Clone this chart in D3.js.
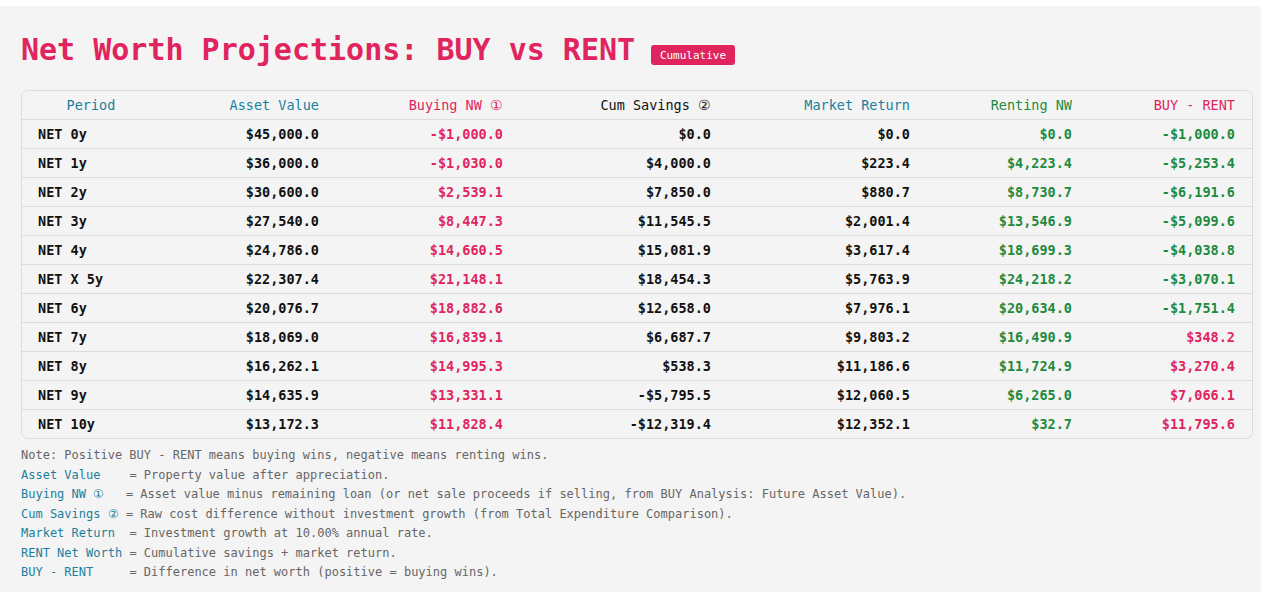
<!DOCTYPE html>
<html><head><meta charset="utf-8">
<script src="https://cdn.jsdelivr.net/npm/d3@7"></script>
<style>html,body{margin:0;background:#f4f4f4;}</style>
</head><body><svg id="c" width="1261" height="592"></svg>
<script>
const periods=["NET 0y","NET 1y","NET 2y","NET 3y","NET 4y","NET X 5y","NET 6y","NET 7y","NET 8y","NET 9y","NET 10y"];
const assetValue=[45000.0,36000.0,30600.0,27540.0,24786.0,22307.4,20076.7,18069.0,16262.1,14635.9,13172.3];
const buyingNW=[-1000.0,-1030.0,2539.1,8447.3,14660.5,21148.1,18882.6,16839.1,14995.3,13331.1,11828.4];
const cumSavings=[0.0,4000.0,7850.0,11545.5,15081.9,18454.3,12658.0,6687.7,538.3,-5795.5,-12319.4];
const marketReturn=[0.0,223.4,880.7,2001.4,3617.4,5763.9,7976.1,9803.2,11186.6,12060.5,12352.1];
const rentingNW=[0.0,4223.4,8730.7,13546.9,18699.3,24218.2,20634.0,16490.9,11724.9,6265.0,32.7];
const buyMinusRent=[-1000.0,-5253.4,-6191.6,-5099.6,-4038.8,-3070.1,-1751.4,348.2,3270.4,7066.1,11795.6];
const headers=["Period","Asset Value","Buying NW ①","Cum Savings ②","Market Return","Renting NW","BUY - RENT"];
const notes=[["","Note: Positive BUY - RENT means buying wins, negative means renting wins."],
["Asset Value    ","= Property value after appreciation."],
["Buying NW ①   ","= Asset value minus remaining loan (or net sale proceeds if selling, from BUY Analysis: Future Asset Value)."],
["Cum Savings ② ","= Raw cost difference without investment growth (from Total Expenditure Comparison)."],
["Market Return  ","= Investment growth at 10.00% annual rate."],
["RENT Net Worth ","= Cumulative savings + market return."],
["BUY - RENT     ","= Difference in net worth (positive = buying wins)."]];

const PINK="#e0245e",TEAL="#1a7f9c",GREEN="#1e8a3e",DARK="#111";
const F="'DejaVu Sans Mono',monospace";
const svg=d3.select("#c");
svg.append("rect").attr("width",1261).attr("height",6).attr("fill","#fff");
svg.append("text").attr("x",21).attr("y",60).attr("font-family",F).attr("font-size",30).attr("font-weight","bold").attr("fill",PINK).text("Net Worth Projections: BUY vs RENT");
svg.append("rect").attr("x",651).attr("y",45).attr("width",84).attr("height",20).attr("rx",3).attr("fill",PINK);
svg.append("text").attr("x",693).attr("y",59).attr("text-anchor","middle").attr("font-family",F).attr("font-size",11).attr("fill","#fff").text("Cumulative");

const y=d3.scaleBand().domain(d3.range(-1,periods.length)).range([90,438]);
svg.append("rect").attr("x",21.5).attr("y",90.5).attr("width",1231).attr("height",348).attr("rx",6).attr("fill","#f4f4f4").attr("stroke","#dcdcdc");
d3.range(0,periods.length).forEach(i=>svg.append("line").attr("x1",22).attr("x2",1252).attr("y1",y(i)+0.5).attr("y2",y(i)+0.5).attr("stroke","#dcdcdc"));

const fmt=v=>(v<0?"-":"")+"$"+d3.format(",.1f")(Math.abs(v));
const colX=[91,319,503,711,910,1072,1235];
const hdrCol=[TEAL,TEAL,PINK,DARK,TEAL,GREEN,PINK];
headers.forEach((h,j)=>svg.append("text").attr("x",colX[j]).attr("y",y(-1)+y.bandwidth()/2+5)
  .attr("text-anchor",j==0?"middle":"end").attr("font-family",F).attr("font-size",13.5).attr("fill",hdrCol[j]).text(h));
const cols=[assetValue,buyingNW,cumSavings,marketReturn,rentingNW,buyMinusRent];
periods.forEach((p,i)=>{
  const cy=y(i)+y.bandwidth()/2+5;
  svg.append("text").attr("x",38).attr("y",cy).attr("font-family",F).attr("font-size",13.5).attr("font-weight","bold").attr("fill",DARK).text(p);
  cols.forEach((c,j)=>{
    const v=c[i];
    let col=DARK;
    if(j==1)col=PINK; if(j==4)col=GREEN; if(j==5)col=v<0?GREEN:PINK;
    svg.append("text").attr("x",colX[j+1]).attr("y",cy).attr("text-anchor","end").attr("font-family",F).attr("font-size",13.5)
      .attr("font-weight","bold").attr("fill",col).text(fmt(v));
  });
});
notes.forEach((n,i)=>{
  const t=svg.append("text").attr("x",21).attr("y",459+i*19.5).attr("font-family",F).attr("font-size",12).attr("xml:space","preserve").style("white-space","pre");
  if(n[0]) t.append("tspan").attr("fill",TEAL).text(n[0]);
  t.append("tspan").attr("fill","#666").text(n[1]);
});
</script></body></html>
